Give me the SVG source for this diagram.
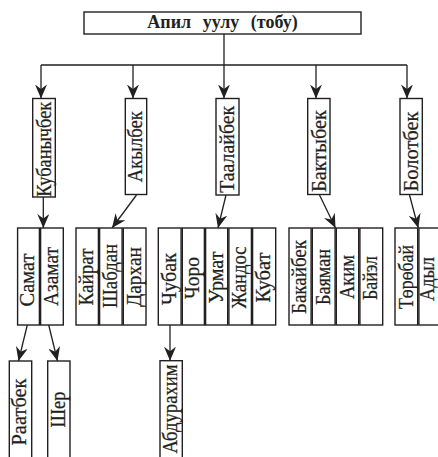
<svg xmlns="http://www.w3.org/2000/svg" width="438" height="457" viewBox="0 0 438 457">
<style>
.box{fill:#fff;stroke:#231f20;stroke-width:1.4}
.lbl{font-family:"Liberation Serif","DejaVu Serif",serif;font-size:21px;fill:#231f20;stroke:#231f20;stroke-width:0.25;text-anchor:middle}
.l1{font-size:22px}
.title{font-family:"Liberation Serif","DejaVu Serif",serif;font-size:18px;font-weight:bold;fill:#231f20;text-anchor:middle;word-spacing:7px}
.ln{stroke:#231f20;stroke-width:1.3;fill:none}
.arr{marker-end:url(#ah)}
</style>
<defs>
<marker id="ah" markerUnits="userSpaceOnUse" markerWidth="15" markerHeight="12" refX="14" refY="6" orient="auto" viewBox="0 0 15 12">
<path d="M0,0 L14,6 L0,12 L4.5,6 z" fill="#231f20"/>
</marker>
</defs>
<rect width="438" height="457" fill="#fff"/>

<g id="connectors">
<path class="ln" d="M224,34 V65 M41,65 H407"/>
<path class="ln arr" d="M41,65 V98.5"/>
<path class="ln arr" d="M133,65 V98.5"/>
<path class="ln arr" d="M224,65 V98.5"/>
<path class="ln arr" d="M316,65 V98.5"/>
<path class="ln arr" d="M407,65 V98.5"/>
<path class="ln arr" d="M43.3,197 V228"/>
<path class="ln arr" d="M136.5,195 L112,228"/>
<path class="ln arr" d="M226,195 L218,228"/>
<path class="ln arr" d="M319.5,195 L335.5,228"/>
<path class="ln arr" d="M409.5,195 L418.3,228"/>
<path class="ln arr" d="M27.3,325 L18.5,361"/>
<path class="ln arr" d="M48.7,325 L57.5,361"/>
<path class="ln arr" d="M170,325 V360.7"/>
</g>

<g id="root">
<rect class="box" x="84" y="12" width="277" height="22"/>
<text class="title" x="222.5" y="27.5">Апил уулу (тобу)</text>
</g>

<g id="kubanychbek">
<rect class="box" x="32.7" y="98.5" width="22.6" height="98.5"/>
<text class="lbl l1" transform="translate(51,149.2) rotate(-90)" textLength="95" lengthAdjust="spacingAndGlyphs">Кубанычбек</text>
</g>
<g id="akylbek">
<rect class="box" x="125.3" y="98.5" width="21.4" height="96"/>
<text class="lbl l1" transform="translate(142.3,146.7) rotate(-90)" textLength="71" lengthAdjust="spacingAndGlyphs">Акылбек</text>
</g>
<g id="taalaybek">
<rect class="box" x="216" y="98.5" width="23" height="96.5"/>
<text class="lbl l1" transform="translate(234.3,149.3) rotate(-90)" textLength="87" lengthAdjust="spacingAndGlyphs">Таалайбек</text>
</g>
<g id="baktybek">
<rect class="box" x="307.7" y="98.5" width="22.3" height="96"/>
<text class="lbl l1" transform="translate(325.5,151) rotate(-90)" textLength="82" lengthAdjust="spacingAndGlyphs">Бактыбек</text>
</g>
<g id="bolotbek">
<rect class="box" x="400" y="98.5" width="22.3" height="96"/>
<text class="lbl l1" transform="translate(417.8,151.5) rotate(-90)" textLength="80" lengthAdjust="spacingAndGlyphs">Болотбек</text>
</g>

<g id="samat"><rect class="box" x="17.6" y="228" width="21.8" height="97"/><text class="lbl" transform="translate(34,280) rotate(-90)" textLength="53" lengthAdjust="spacingAndGlyphs">Самат</text></g>
<g id="azamat"><rect class="box" x="40.6" y="228" width="22.7" height="97"/><text class="lbl" transform="translate(57.7,276.5) rotate(-90)" textLength="59" lengthAdjust="spacingAndGlyphs">Азамат</text></g>

<g id="kairat"><rect class="box" x="76" y="228" width="22.4" height="97"/><text class="lbl" transform="translate(93.2,277) rotate(-90)" textLength="57" lengthAdjust="spacingAndGlyphs">Кайрат</text></g>
<g id="shabdan"><rect class="box" x="99.6" y="228" width="22.5" height="97"/><text class="lbl" transform="translate(116.9,276) rotate(-90)" textLength="64" lengthAdjust="spacingAndGlyphs">Шабдан</text></g>
<g id="darkhan"><rect class="box" x="123.3" y="228" width="22.7" height="97"/><text class="lbl" transform="translate(140.5,277) rotate(-90)" textLength="60" lengthAdjust="spacingAndGlyphs">Дархан</text></g>

<g id="chubak"><rect class="box" x="158.3" y="228" width="22.8" height="97"/><text class="lbl" transform="translate(175.9,279) rotate(-90)" textLength="52" lengthAdjust="spacingAndGlyphs">Чубак</text></g>
<g id="choro"><rect class="box" x="182.3" y="228" width="22.1" height="97"/><text class="lbl" transform="translate(199.2,278) rotate(-90)" textLength="42" lengthAdjust="spacingAndGlyphs">Чоро</text></g>
<g id="urmat"><rect class="box" x="205.6" y="228" width="22.1" height="97"/><text class="lbl" transform="translate(222.5,277.5) rotate(-90)" textLength="52" lengthAdjust="spacingAndGlyphs">Урмат</text></g>
<g id="zhandos"><rect class="box" x="228.9" y="228" width="22.5" height="97"/><text class="lbl" transform="translate(246.2,277.5) rotate(-90)" textLength="62" lengthAdjust="spacingAndGlyphs">Жандос</text></g>
<g id="kubat"><rect class="box" x="252.6" y="228" width="23.1" height="97"/><text class="lbl" transform="translate(269.9,277.5) rotate(-90)" textLength="50" lengthAdjust="spacingAndGlyphs">Кубат</text></g>

<g id="bakaybek"><rect class="box" x="289" y="228" width="22.1" height="97"/><text class="lbl" transform="translate(305.9,277) rotate(-90)" textLength="74" lengthAdjust="spacingAndGlyphs">Бакайбек</text></g>
<g id="bayaman"><rect class="box" x="312.3" y="228" width="22.8" height="97"/><text class="lbl" transform="translate(329.9,277) rotate(-90)" textLength="56" lengthAdjust="spacingAndGlyphs">Баяман</text></g>
<g id="akim"><rect class="box" x="336.3" y="228" width="22.4" height="97"/><text class="lbl" transform="translate(353.5,277) rotate(-90)" textLength="44" lengthAdjust="spacingAndGlyphs">Аким</text></g>
<g id="bayel"><rect class="box" x="359.9" y="228" width="22.8" height="97"/><text class="lbl" transform="translate(376.9,278) rotate(-90)" textLength="44" lengthAdjust="spacingAndGlyphs">Байэл</text></g>

<g id="torobay"><rect class="box" x="395" y="228" width="22.7" height="97"/><text class="lbl" transform="translate(412.5,277) rotate(-90)" textLength="64" lengthAdjust="spacingAndGlyphs">Төрөбай</text></g>
<g id="adyl"><rect class="box" x="418.9" y="228" width="23" height="97"/><text class="lbl" transform="translate(434.2,279) rotate(-90)" textLength="44" lengthAdjust="spacingAndGlyphs">Адыл</text></g>

<g id="raatbek"><rect class="box" x="9.3" y="361" width="22.4" height="97"/><text class="lbl" transform="translate(26.2,412) rotate(-90)" textLength="67" lengthAdjust="spacingAndGlyphs">Раатбек</text></g>
<g id="sher"><rect class="box" x="47.7" y="361" width="22.3" height="97"/><text class="lbl" transform="translate(64.5,409.5) rotate(-90)" textLength="36" lengthAdjust="spacingAndGlyphs">Шер</text></g>
<g id="abdurakhim"><rect class="box" x="160" y="360.7" width="22.3" height="97.3"/><text class="lbl" transform="translate(176.8,409) rotate(-90)" textLength="89" lengthAdjust="spacingAndGlyphs">Абдурахим</text></g>
</svg>
